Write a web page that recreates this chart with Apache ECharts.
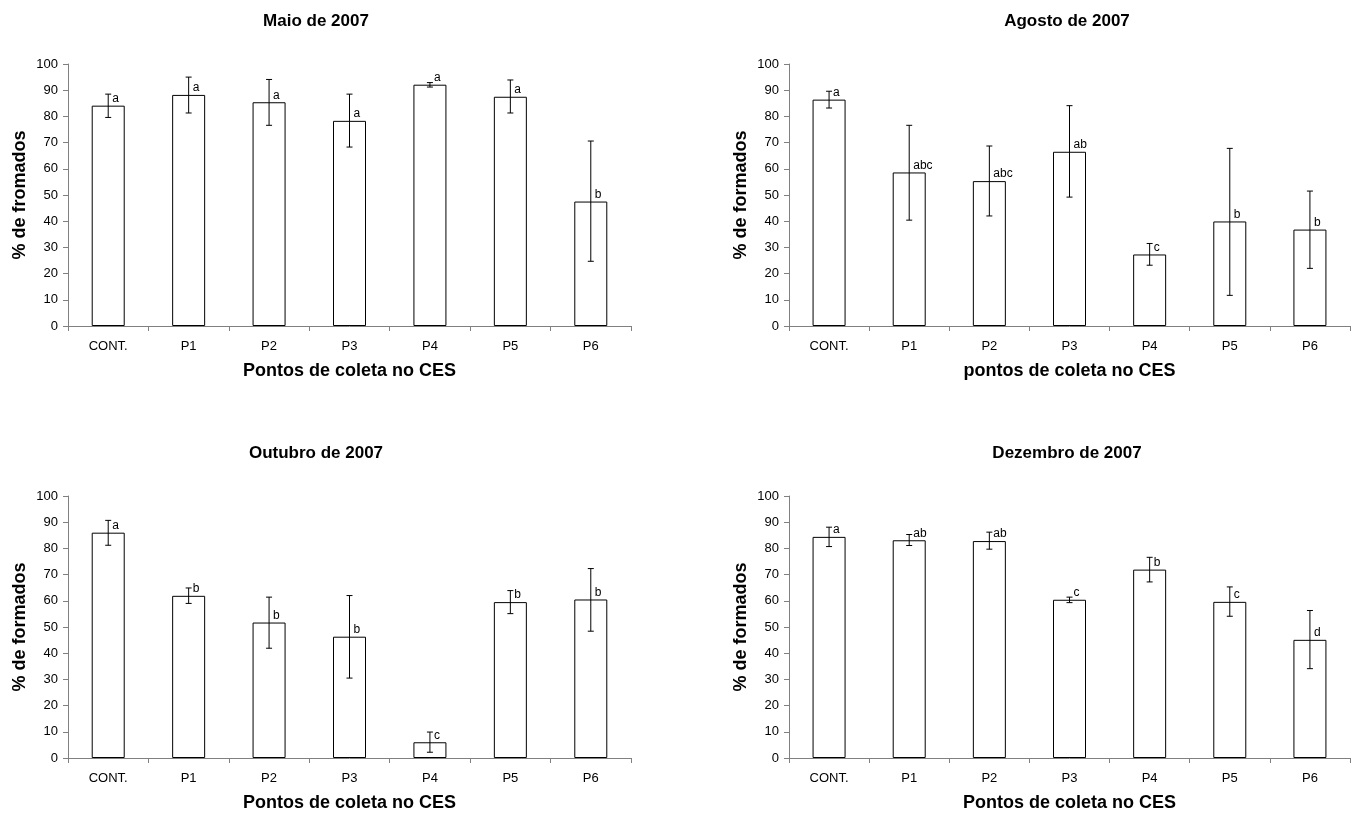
<!DOCTYPE html>
<html>

<head>
    <meta charset="UTF-8">
    <title>% de formados - pontos de coleta no CES</title>
    <script type="text/javascript" src="https://cdn.jsdelivr.net/npm/echarts@6/dist/echarts.min.js"></script>
    <style>
    body,
    html {
        margin: 0;
        padding: 0;
        width: 100%;
        height: 100%;
        background: #fff;
    }

    #painel {
        width: 1351px;
        height: 813px;
    }
    </style>
</head>

<body>
    <div id="painel"></div>
    <script>
    // dados
    var categorias = ['CONT.', 'P1', 'P2', 'P3', 'P4', 'P5', 'P6'];

    var maioMedia = [84.1, 88.2, 85.4, 78.3, 92.1, 87.5, 47.5];
    var maioMin = [79.6, 81.3, 76.6, 68.3, 91.2, 81.3, 24.7];
    var maioMax = [88.5, 95.0, 94.1, 88.5, 92.9, 93.9, 70.6];
    var maioLetras = ['a', 'a', 'a', 'a', 'a', 'a', 'b'];

    var agostoMedia = [86.4, 58.6, 55.3, 66.5, 27.3, 39.9, 36.8];
    var agostoMin = [83.2, 40.4, 42.0, 49.2, 23.2, 11.7, 22.0];
    var agostoMax = [89.6, 76.6, 68.7, 84.1, 31.5, 67.8, 51.5];
    var agostoLetras = ['a', 'abc', 'abc', 'ab', 'c', 'b', 'b'];

    var outubroMedia = [86.0, 61.9, 51.7, 46.3, 6.0, 59.5, 60.5];
    var outubroMin = [81.2, 59.0, 41.9, 30.5, 2.2, 55.1, 48.4];
    var outubroMax = [90.7, 64.9, 61.4, 62.0, 9.9, 63.9, 72.3];
    var outubroLetras = ['a', 'b', 'b', 'b', 'c', 'b', 'b'];

    var dezembroMedia = [84.4, 83.1, 82.8, 60.4, 71.9, 59.6, 45.1];
    var dezembroMin = [80.7, 81.1, 79.7, 59.3, 67.2, 54.1, 34.1];
    var dezembroMax = [88.1, 85.3, 86.2, 61.4, 76.6, 65.3, 56.3];
    var dezembroLetras = ['a', 'ab', 'ab', 'c', 'b', 'c', 'd'];

    var fonte = 'Liberation Sans, Arial, sans-serif';

    var paineis = [
        { titulo: 'Maio de 2007', nomeY: '% de fromados', nomeX: 'Pontos de coleta no CES', media: maioMedia, min: maioMin, max: maioMax, letras: maioLetras },
        { titulo: 'Agosto de 2007', nomeY: '% de formados', nomeX: 'pontos de coleta no CES', media: agostoMedia, min: agostoMin, max: agostoMax, letras: agostoLetras },
        { titulo: 'Outubro de 2007', nomeY: '% de formados', nomeX: 'Pontos de coleta no CES', media: outubroMedia, min: outubroMin, max: outubroMax, letras: outubroLetras },
        { titulo: 'Dezembro de 2007', nomeY: '% de formados', nomeX: 'Pontos de coleta no CES', media: dezembroMedia, min: dezembroMin, max: dezembroMax, letras: dezembroLetras }
    ];

    var grades = [
        { left: 68, top: 64, width: 563, height: 262 },
        { left: 789, top: 64, width: 561, height: 262 },
        { left: 68, top: 496, width: 563, height: 262 },
        { left: 789, top: 496, width: 561, height: 262 }
    ];
    var titulosPos = [[316, 13], [1067, 13], [316, 445], [1067, 445]];

    // barra de erro + letra
    function fazErro(letras) {
        return function(params, api) {
            var i = api.value(0);
            var m = api.coord([i, api.value(1)]);
            var lo = api.coord([i, api.value(2)]);
            var hi = api.coord([i, api.value(3)]);
            var x = m[0];
            var c = 3;
            var st = { stroke: '#000', lineWidth: 1 };
            return {
                type: 'group',
                children: [
                    { type: 'line', shape: { x1: x, y1: hi[1], x2: x, y2: lo[1] }, style: st },
                    { type: 'line', shape: { x1: x - c, y1: hi[1], x2: x + c, y2: hi[1] }, style: st },
                    { type: 'line', shape: { x1: x - c, y1: lo[1], x2: x + c, y2: lo[1] }, style: st },
                    {
                        type: 'text',
                        x: x + 4,
                        y: m[1] - 1,
                        style: {
                            text: letras[params.dataIndex],
                            fill: '#000',
                            font: '12px ' + fonte,
                            textAlign: 'left',
                            textVerticalAlign: 'bottom'
                        }
                    }
                ]
            };
        };
    }

    var option = {
        animation: false,
        backgroundColor: '#fff',
        title: [],
        grid: [],
        xAxis: [],
        yAxis: [],
        series: []
    };

    for (var k = 0; k < paineis.length; k++) {
        var p = paineis[k];
        option.title.push({
            text: p.titulo,
            left: titulosPos[k][0],
            top: titulosPos[k][1],
            textAlign: 'center',
            padding: 0,
            textStyle: { fontFamily: fonte, fontSize: 17, fontWeight: 'bold', color: '#000' }
        });
        option.grid.push(grades[k]);
        option.xAxis.push({
            type: 'category',
            gridIndex: k,
            data: categorias,
            name: p.nomeX,
            nameLocation: 'middle',
            nameGap: 36,
            nameTextStyle: { fontFamily: fonte, fontSize: 18, fontWeight: 'bold', color: '#000' },
            axisLine: { lineStyle: { color: '#808080', width: 1 } },
            axisTick: { show: true, length: 5, lineStyle: { color: '#808080' } },
            axisLabel: { fontFamily: fonte, fontSize: 13, color: '#000', margin: 14 },
            splitLine: { show: false }
        });
        option.yAxis.push({
            type: 'value',
            gridIndex: k,
            min: 0,
            max: 100,
            interval: 10,
            name: p.nomeY,
            nameLocation: 'middle',
            nameGap: 39,
            nameTextStyle: { fontFamily: fonte, fontSize: 18, fontWeight: 'bold', color: '#000' },
            axisLine: { show: true, lineStyle: { color: '#808080', width: 1 } },
            axisTick: { show: true, length: 5, lineStyle: { color: '#808080' } },
            axisLabel: { fontFamily: fonte, fontSize: 13, color: '#000', margin: 10 },
            splitLine: { show: false }
        });
        option.series.push({
            type: 'bar',
            xAxisIndex: k,
            yAxisIndex: k,
            barWidth: 33,
            data: p.media,
            itemStyle: { color: '#fff', borderColor: '#000', borderWidth: 1 }
        });
        var dadosErro = [];
        for (var i = 0; i < categorias.length; i++) {
            dadosErro.push([i, p.media[i], p.min[i], p.max[i]]);
        }
        option.series.push({
            type: 'custom',
            xAxisIndex: k,
            yAxisIndex: k,
            renderItem: fazErro(p.letras),
            data: dadosErro,
            encode: { x: 0, y: 1 },
            z: 5
        });
    }

    var grafico = echarts.init(document.getElementById('painel'));
    grafico.setOption(option);
    </script>
</body>

</html>
